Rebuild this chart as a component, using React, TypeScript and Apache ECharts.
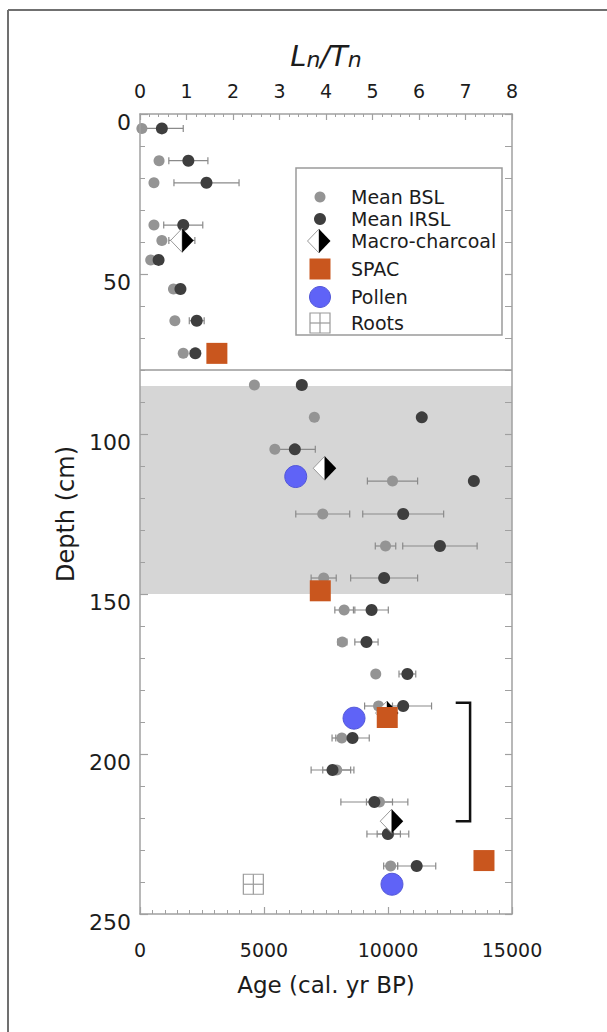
import React, { useEffect, useRef } from "react";
import * as echarts from "echarts";

// ---------- data ----------
// Mean BSL (Ln/Tn, depth cm, error)
const BSL_DEPTH = [4.5, 14.6, 21.5, 34.7, 39.5, 45.6, 54.7, 64.6, 74.8, 84.7, 94.8, 104.8, 114.7, 125, 135, 145, 155, 165, 175, 185, 195, 205, 215, 225, 235];
const BSL_LNTN = [0.04, 0.41, 0.30, 0.30, 0.47, 0.23, 0.72, 0.75, 0.93, 2.46, 3.75, 2.90, 5.43, 3.93, 5.28, 3.95, 4.39, 4.35, 5.07, 5.13, 4.34, 4.23, 5.15, 5.35, 5.39];
const BSL_ERR = [0, 0, 0, 0, 0, 0, 0, 0, 0, 0, 0, 0, 0.54, 0.58, 0.22, 0.27, 0.2, 0.1, 0, 0.3, 0.21, 0.3, 0.28, 0.25, 0.15];
// Mean IRSL
const IRSL_DEPTH = [4.5, 14.6, 21.5, 34.7, 39.5, 45.6, 54.7, 64.6, 74.8, 84.7, 94.8, 104.8, 114.7, 125, 135, 145, 155, 165, 175, 185, 195, 205, 215, 225, 235];
const IRSL_LNTN = [0.47, 1.04, 1.43, 0.93, 0.90, 0.40, 0.87, 1.22, 1.19, 3.48, 6.06, 3.33, 7.18, 5.66, 6.45, 5.25, 4.98, 4.87, 5.75, 5.66, 4.57, 4.14, 5.04, 5.33, 5.95];
const IRSL_ERR = [0.46, 0.42, 0.70, 0.42, 0.28, 0, 0, 0.16, 0, 0.1, 0, 0.44, 0, 0.87, 0.80, 0.72, 0.36, 0.25, 0.18, 0.61, 0.36, 0.46, 0.72, 0.45, 0.41];
// Ages (cal. yr BP) and depths
const CHARCOAL_AGE = [1700, 7450, 9960, 10150];
const CHARCOAL_DEPTH = [39.5, 110.7, 187.2, 221];
const SPAC_AGE = [3100, 7270, 9970, 13870];
const SPAC_DEPTH = [74.8, 149, 188.6, 233.3];
const POLLEN_AGE = [6280, 8630, 10160];
const POLLEN_DEPTH = [113.3, 188.8, 240.7];
const ROOTS_AGE = [4570];
const ROOTS_DEPTH = [240.7];
// shaded zone, divider and bracket
const BAND_DEPTH = [85, 150];
const DIVIDER_DEPTH = [80];
const BRACKET_AGE = [12730, 13310];
const BRACKET_DEPTH = [184, 221];
// axis ticks
const AGE_TICKS = [0, 5000, 10000, 15000];
const LNTN_TICKS = [0, 1, 2, 3, 4, 5, 6, 7, 8];
const DEPTH_TICKS = [0, 50, 100, 150, 200, 250];

const FONT = "'DejaVu Sans', 'Liberation Sans', sans-serif";
const BSL_COLOR = "#949494";
const IRSL_COLOR = "#3e3e3e";
const SPAC_COLOR = "#c9561e";
const POLLEN_COLOR = "#5f63f7";
const AXIS_COLOR = "#a0a0a0";
const TEXT_COLOR = "#1c1c1c";

function errRender(params: any, api: any) {
  const x = api.value(0);
  const y = api.value(1);
  const e = api.value(2);
  if (!e) return { type: "group", children: [] };
  const p1 = api.coord([x - e, y]);
  const p2 = api.coord([x + e, y]);
  const st = { stroke: "#8a8a8a", lineWidth: 1.2 };
  return {
    type: "group",
    children: [
      { type: "line", shape: { x1: p1[0], y1: p1[1], x2: p2[0], y2: p2[1] }, style: st },
      { type: "line", shape: { x1: p1[0], y1: p1[1] - 3.5, x2: p1[0], y2: p1[1] + 3.5 }, style: st },
      { type: "line", shape: { x1: p2[0], y1: p2[1] - 3.5, x2: p2[0], y2: p2[1] + 3.5 }, style: st },
    ],
  };
}

function diamondChildren(cx: number, cy: number, z?: number) {
  const extra = z === undefined ? {} : { z };
  return [
    { type: "polygon", ...extra, shape: { points: [[cx, cy - 12], [cx - 11.5, cy], [cx, cy + 12]] }, style: { fill: "#ffffff", stroke: "#9a9a9a", lineWidth: 1 } },
    { type: "polygon", ...extra, shape: { points: [[cx, cy - 12], [cx + 11.5, cy], [cx, cy + 12]] }, style: { fill: "#000000" } },
  ];
}

function rootsChildren(cx: number, cy: number, z?: number) {
  const extra = z === undefined ? {} : { z };
  const h = 10;
  const st = { stroke: "#9a9a9a", lineWidth: 1.2, fill: "none" };
  return [
    { type: "rect", ...extra, shape: { x: cx - h, y: cy - h, width: 2 * h, height: 2 * h }, style: st },
    { type: "line", ...extra, shape: { x1: cx, y1: cy - h, x2: cx, y2: cy + h }, style: st },
    { type: "line", ...extra, shape: { x1: cx - h, y1: cy, x2: cx + h, y2: cy }, style: st },
  ];
}

export default function App() {
  const ref = useRef<HTMLDivElement>(null);
  useEffect(() => {
    if (!ref.current) return;
    const chart = echarts.init(ref.current, undefined, { renderer: "svg" });

    const axisCommon = {
      axisLine: { show: true, onZero: false, lineStyle: { color: AXIS_COLOR, width: 1.5 } },
      splitLine: { show: false },
      z: 10,
    };

    const legendRows = [197, 219, 241, 269, 297, 323];
    const legendNames = ["Mean BSL", "Mean IRSL", "Macro-charcoal", "SPAC", "Pollen", "Roots"];
    const LX = 320;

    const option: any = {
      animation: false,
      backgroundColor: "#ffffff",
      grid: { left: 140, right: 95, top: 114, bottom: 118, containLabel: false },
      xAxis: [
        {
          ...axisCommon,
          type: "value",
          position: "bottom",
          min: AGE_TICKS[0],
          max: AGE_TICKS[AGE_TICKS.length - 1],
          interval: AGE_TICKS[1] - AGE_TICKS[0],
          axisTick: { show: true, inside: true, length: 7, lineStyle: { color: AXIS_COLOR, width: 1.2 } },
          minorTick: { show: true, splitNumber: 10, length: 4, lineStyle: { color: AXIS_COLOR, width: 1 } },
          axisLabel: { fontSize: 19, fontFamily: FONT, color: TEXT_COLOR, margin: 26, formatter: (v: number) => String(v) },
          name: "Age (cal. yr BP)",
          nameLocation: "middle",
          nameGap: 59,
          nameTextStyle: { fontSize: 23, fontFamily: FONT, color: TEXT_COLOR },
        },
        {
          ...axisCommon,
          type: "value",
          position: "top",
          min: LNTN_TICKS[0],
          max: LNTN_TICKS[LNTN_TICKS.length - 1],
          interval: 1,
          axisTick: { show: true, inside: true, length: 6, lineStyle: { color: AXIS_COLOR, width: 1.2 } },
          minorTick: { show: true, splitNumber: 5, length: 3, lineStyle: { color: AXIS_COLOR, width: 1 } },
          axisLabel: { fontSize: 19, fontFamily: FONT, color: TEXT_COLOR, margin: 14 },
          name: "{a|L}{b|n}{a|/T}{b|n}",
          nameLocation: "middle",
          nameGap: 44,
          nameTextStyle: {
            rich: {
              a: { fontSize: 29, fontStyle: "italic", fontFamily: FONT, color: TEXT_COLOR, verticalAlign: "bottom" },
              b: { fontSize: 22, fontStyle: "italic", fontFamily: FONT, color: TEXT_COLOR, verticalAlign: "bottom" },
            },
          },
        },
      ],
      yAxis: [
        {
          ...axisCommon,
          type: "value",
          position: "left",
          inverse: true,
          min: DEPTH_TICKS[0],
          max: DEPTH_TICKS[DEPTH_TICKS.length - 1],
          interval: DEPTH_TICKS[1] - DEPTH_TICKS[0],
          axisTick: { show: true, inside: true, length: 8, lineStyle: { color: AXIS_COLOR, width: 1.2 } },
          minorTick: { show: true, splitNumber: 5, length: 5, lineStyle: { color: AXIS_COLOR, width: 1 } },
          axisLabel: { fontSize: 22, fontFamily: FONT, color: TEXT_COLOR, margin: 9, verticalAlign: "top", lineHeight: 16 },
          name: "Depth (cm)",
          nameLocation: "middle",
          nameRotate: 90,
          nameGap: 58,
          nameTextStyle: { fontSize: 24, fontFamily: FONT, color: TEXT_COLOR },
        },
        {
          ...axisCommon,
          type: "value",
          position: "right",
          inverse: true,
          min: DEPTH_TICKS[0],
          max: DEPTH_TICKS[DEPTH_TICKS.length - 1],
          interval: DEPTH_TICKS[1] - DEPTH_TICKS[0],
          axisTick: { show: true, inside: true, length: 7, lineStyle: { color: AXIS_COLOR, width: 1.2 } },
          minorTick: { show: true, splitNumber: 5, length: 7, lineStyle: { color: AXIS_COLOR, width: 1 } },
          axisLabel: { show: false },
        },
      ],
      series: [
        {
          type: "custom",
          name: "band",
          xAxisIndex: 0,
          yAxisIndex: 0,
          z: 1,
          silent: true,
          data: [[0, BAND_DEPTH[0], BAND_DEPTH[1]]],
          encode: { x: 0, y: [1, 2] },
          renderItem: (params: any, api: any) => {
            const cs = params.coordSys;
            const y0 = api.coord([0, api.value(1)])[1];
            const y1 = api.coord([0, api.value(2)])[1];
            return { type: "rect", shape: { x: cs.x, y: y0, width: cs.width, height: y1 - y0 }, style: { fill: "#d6d6d6" } };
          },
        },
        {
          type: "custom",
          name: "divider",
          xAxisIndex: 0,
          yAxisIndex: 0,
          z: 1,
          silent: true,
          data: DIVIDER_DEPTH.map((d) => [0, d]),
          encode: { x: 0, y: 1 },
          renderItem: (params: any, api: any) => {
            const cs = params.coordSys;
            const y = api.coord([0, api.value(1)])[1];
            return { type: "line", shape: { x1: cs.x, y1: y, x2: cs.x + cs.width, y2: y }, style: { stroke: "#9a9a9a", lineWidth: 1.5 } };
          },
        },
        {
          type: "custom",
          name: "BSL error",
          xAxisIndex: 1,
          yAxisIndex: 0,
          z: 2,
          silent: true,
          data: BSL_LNTN.map((v, i) => [v, BSL_DEPTH[i], BSL_ERR[i]]),
          encode: { x: 0, y: 1 },
          renderItem: errRender,
        },
        {
          type: "custom",
          name: "IRSL error",
          xAxisIndex: 1,
          yAxisIndex: 0,
          z: 2,
          silent: true,
          data: IRSL_LNTN.map((v, i) => [v, IRSL_DEPTH[i], IRSL_ERR[i]]),
          encode: { x: 0, y: 1 },
          renderItem: errRender,
        },
        {
          type: "scatter",
          name: "Mean BSL",
          xAxisIndex: 1,
          yAxisIndex: 0,
          z: 3,
          symbol: "circle",
          symbolSize: 11,
          itemStyle: { color: BSL_COLOR, opacity: 1 },
          data: BSL_LNTN.map((v, i) => [v, BSL_DEPTH[i]]),
        },
        {
          type: "scatter",
          name: "Mean IRSL",
          xAxisIndex: 1,
          yAxisIndex: 0,
          z: 4,
          symbol: "circle",
          symbolSize: 12,
          itemStyle: { color: IRSL_COLOR, opacity: 1 },
          data: IRSL_LNTN.map((v, i) => [v, IRSL_DEPTH[i]]),
        },
        {
          type: "custom",
          name: "Macro-charcoal",
          xAxisIndex: 0,
          yAxisIndex: 0,
          z: 5,
          data: CHARCOAL_AGE.map((v, i) => [v, CHARCOAL_DEPTH[i]]),
          encode: { x: 0, y: 1 },
          renderItem: (params: any, api: any) => {
            const p = api.coord([api.value(0), api.value(1)]);
            return { type: "group", children: diamondChildren(p[0], p[1]) };
          },
        },
        {
          type: "scatter",
          name: "Pollen",
          xAxisIndex: 0,
          yAxisIndex: 0,
          z: 6,
          symbol: "circle",
          symbolSize: 22,
          itemStyle: { color: POLLEN_COLOR, opacity: 1, borderColor: "#5257d8", borderWidth: 1 },
          data: POLLEN_AGE.map((v, i) => [v, POLLEN_DEPTH[i]]),
        },
        {
          type: "scatter",
          name: "SPAC",
          xAxisIndex: 0,
          yAxisIndex: 0,
          z: 7,
          symbol: "rect",
          symbolSize: 21,
          itemStyle: { color: SPAC_COLOR, opacity: 1 },
          data: SPAC_AGE.map((v, i) => [v, SPAC_DEPTH[i]]),
        },
        {
          type: "custom",
          name: "Roots",
          xAxisIndex: 0,
          yAxisIndex: 0,
          z: 8,
          data: ROOTS_AGE.map((v, i) => [v, ROOTS_DEPTH[i]]),
          encode: { x: 0, y: 1 },
          renderItem: (params: any, api: any) => {
            const p = api.coord([api.value(0), api.value(1)]);
            return { type: "group", children: rootsChildren(p[0], p[1]) };
          },
        },
        {
          type: "custom",
          name: "bracket",
          xAxisIndex: 0,
          yAxisIndex: 0,
          z: 8,
          silent: true,
          data: [[BRACKET_AGE[0], BRACKET_DEPTH[0], BRACKET_AGE[1], BRACKET_DEPTH[1]]],
          encode: { x: [0, 2], y: [1, 3] },
          renderItem: (params: any, api: any) => {
            const a = api.coord([api.value(0), api.value(1)]);
            const b = api.coord([api.value(2), api.value(1)]);
            const c = api.coord([api.value(2), api.value(3)]);
            const d = api.coord([api.value(0), api.value(3)]);
            return { type: "polyline", shape: { points: [a, b, c, d] }, style: { stroke: "#111111", lineWidth: 2.5, fill: "none" } };
          },
        },
      ],
      graphic: [
        // outer frame (top & left)
        { type: "line", shape: { x1: 8, y1: 10, x2: 607, y2: 10 }, style: { stroke: "#707070", lineWidth: 2 }, silent: true },
        { type: "line", shape: { x1: 8, y1: 10, x2: 8, y2: 1032 }, style: { stroke: "#707070", lineWidth: 2 }, silent: true },
        // legend box
        { type: "rect", shape: { x: 296, y: 168, width: 206, height: 167 }, style: { fill: "#ffffff", stroke: "#9a9a9a", lineWidth: 1.5 }, z: 20 },
        { type: "circle", shape: { cx: LX, cy: legendRows[0], r: 5.5 }, style: { fill: BSL_COLOR }, z: 21 },
        { type: "circle", shape: { cx: LX, cy: legendRows[1], r: 6 }, style: { fill: IRSL_COLOR }, z: 21 },
        ...diamondChildren(LX - 1, legendRows[2], 21),
        { type: "rect", shape: { x: LX - 10.5, y: legendRows[3] - 10.5, width: 21, height: 21 }, style: { fill: SPAC_COLOR }, z: 21 },
        { type: "circle", shape: { cx: LX, cy: legendRows[4], r: 10.5 }, style: { fill: POLLEN_COLOR, stroke: "#5257d8", lineWidth: 1 }, z: 21 },
        ...rootsChildren(LX, legendRows[5], 21),
        ...legendNames.map((t, i) => ({
          type: "text",
          x: 351,
          y: legendRows[i],
          z: 21,
          style: { text: t, fontSize: 19, fontFamily: FONT, fill: TEXT_COLOR, verticalAlign: "middle", align: "left" },
        })),
      ],
    };

    chart.setOption(option);
    return () => chart.dispose();
  }, []);

  return (
    <div
      ref={ref}
      style={{ position: "fixed", left: 0, top: 0, width: 607, height: 1032, background: "#fff" }}
    />
  );
}
